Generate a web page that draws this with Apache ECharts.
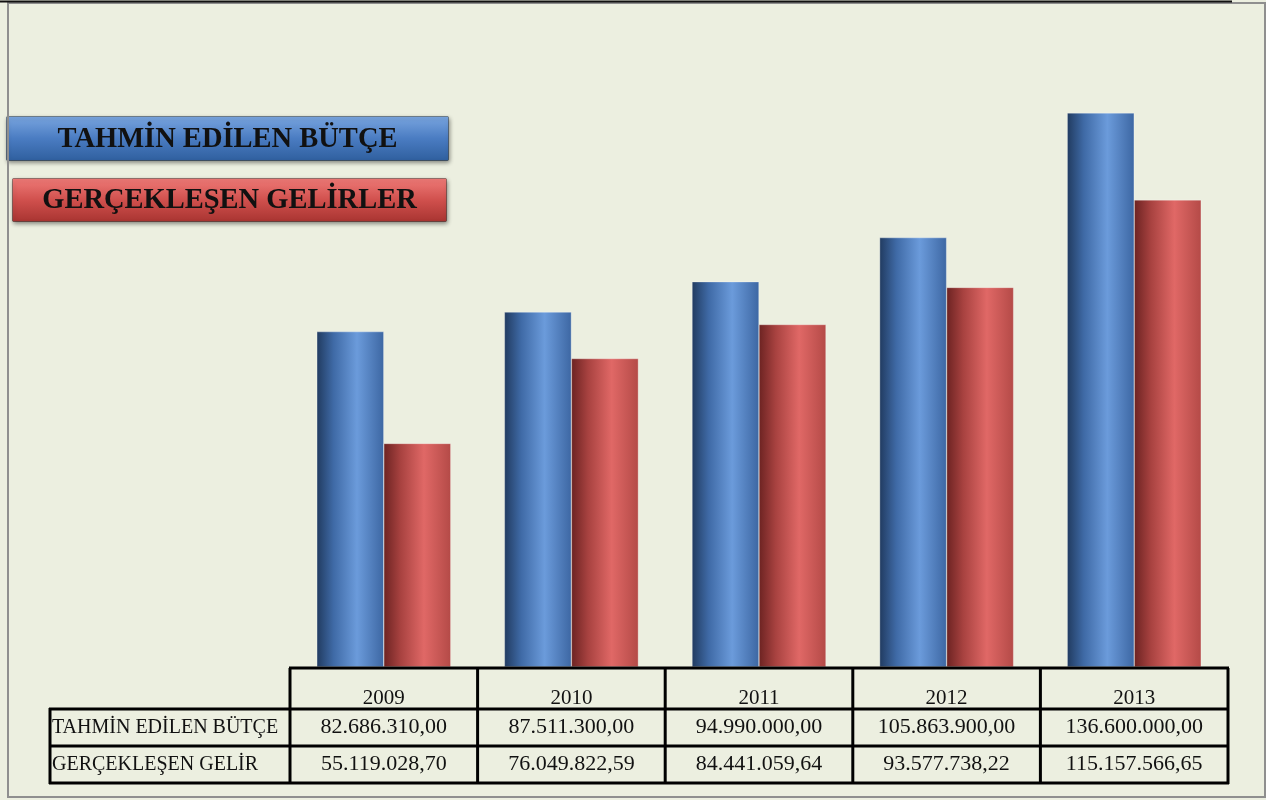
<!DOCTYPE html>
<html><head><meta charset="utf-8">
<script src="https://cdn.jsdelivr.net/npm/echarts@6/dist/echarts.min.js"></script>
<style>html,body{margin:0;padding:0;background:#ffffff;}#c{width:1275px;height:800px;}</style>
</head><body><div id="c"></div>
<script>
var categories = ['2009', '2010', '2011', '2012', '2013'];
var seriesNames = ['TAHMİN EDİLEN BÜTÇE', 'GERÇEKLEŞEN GELİRLER'];
var rowLabels = ['TAHMİN EDİLEN BÜTÇE', 'GERÇEKLEŞEN GELİR'];
var budget = [82686310.00, 87511300.00, 94990000.00, 105863900.00, 136600000.00];
var revenue = [55119028.70, 76049822.59, 84441059.64, 93577738.22, 115157566.65];

function fmtTR(v) {
  var fixed = v.toFixed(2).split('.');
  var intPart = fixed[0].replace(/\B(?=(\d{3})+(?!\d))/g, '.');
  return intPart + ',' + fixed[1];
}

var GL = 290, GR = 1228, GB = 667;
var serif = '"Liberation Serif", "DejaVu Serif", serif';

function lg(stops) {
  return { type: 'linear', x: 0, y: 0, x2: 1, y2: 0,
    colorStops: stops.map(function (s) { return { offset: s[0], color: s[1] }; }) };
}
var blueGrad = lg([[0, '#213b60'], [0.25, '#3f6aa6'], [0.6, '#6b9bdb'], [1, '#3d67a3']]);
var redGrad = lg([[0, '#6c2322'], [0.25, '#a84240'], [0.6, '#e06866'], [1, '#b44a47']]);

var chart = echarts.init(document.getElementById('c'));

var lines = [];
function hline(x1, x2, y) { lines.push({ type: 'line', shape: { x1: x1, y1: y, x2: x2, y2: y }, style: { stroke: '#000', lineWidth: 3 }, z: 10 }); }
function vline(x, y1, y2) { lines.push({ type: 'line', shape: { x1: x, y1: y1, x2: x, y2: y2 }, style: { stroke: '#000', lineWidth: 3 }, z: 10 }); }
var colW = (GR - GL) / categories.length;
hline(GL - 1, GR + 1, 668);
hline(49, GR + 1, 709);
hline(49, GR + 1, 746);
hline(49, GR + 1, 783);
for (var i = 0; i <= categories.length; i++) vline(GL + colW * i, 668, 784);
vline(50, 708, 784);

function legendBox(x, y, w, h, top, mid, bot, text) {
  return {
    type: 'group', left: x, top: y, z: 20,
    children: [
      { type: 'rect', shape: { x: 0, y: 0, width: w, height: h, r: 1 },
        style: { fill: { type: 'linear', x: 0, y: 0, x2: 0, y2: 1,
          colorStops: [{ offset: 0, color: top }, { offset: 0.5, color: mid }, { offset: 1, color: bot }] },
          stroke: 'rgba(0,0,0,0.35)', lineWidth: 1,
          shadowBlur: 4, shadowColor: 'rgba(0,0,0,0.45)', shadowOffsetX: 1, shadowOffsetY: 2 } },
      { type: 'text', x: w / 2, y: h / 2 + 1,
        style: { text: text, fill: '#111', font: 'bold 28.5px ' + serif, align: 'center', verticalAlign: 'middle' } }
    ]
  };
}

var option = {
  backgroundColor: '#ecefe0',
  animation: false,
  grid: { left: GL, right: 1275 - GR, bottom: 800 - GB, top: 18, containLabel: false },
  xAxis: {
    type: 'category', data: categories,
    axisLine: { show: false }, axisTick: { show: false },
    axisLabel: {
      margin: 18, interval: 0,
      formatter: function (v, idx) {
        return '{y|' + v + '}\n{a|' + fmtTR(budget[idx]) + '}\n{b|' + fmtTR(revenue[idx]) + '}';
      },
      rich: {
        y: { fontFamily: serif, fontSize: 21, color: '#111', lineHeight: 26 },
        a: { fontFamily: serif, fontSize: 22, color: '#111', lineHeight: 33 },
        b: { fontFamily: serif, fontSize: 22, color: '#111', lineHeight: 41 }
      }
    }
  },
  yAxis: { type: 'value', min: 0, max: 160000000, show: false, splitLine: { show: false } },
  series: [
    { name: seriesNames[0], type: 'bar', data: budget, barWidth: 67, barGap: '0%',
      itemStyle: { color: blueGrad, borderColor: 'rgba(255,255,255,0.6)', borderWidth: 0.5 } },
    { name: seriesNames[1], type: 'bar', data: revenue, barWidth: 67, barGap: '0%',
      itemStyle: { color: redGrad, borderColor: 'rgba(255,255,255,0.6)', borderWidth: 0.5 } }
  ],
  graphic: [
    { type: 'rect', shape: { x: 1266, y: 0, width: 9, height: 800 }, style: { fill: '#ffffff' }, z: 1 },
    { type: 'rect', shape: { x: 8, y: 3, width: 1257, height: 794 }, style: { fill: 'none', stroke: '#8f8f8f', lineWidth: 2 }, z: 1 },
    { type: 'line', shape: { x1: 0, y1: 1.5, x2: 1232, y2: 1.5 }, style: { stroke: '#111', lineWidth: 2 }, z: 2 },
    legendBox(6, 116, 442, 44, '#7aa6e0', '#4a7cc2', '#2f5f9e', seriesNames[0]),
    legendBox(12, 178, 434, 43, '#f07b78', '#d0504d', '#a83431', seriesNames[1]),
    { type: 'text', x: 52, y: 728, z: 20, style: { text: rowLabels[0], fill: '#111', font: '20px ' + serif, verticalAlign: 'middle' } },
    { type: 'text', x: 52, y: 765, z: 20, style: { text: rowLabels[1], fill: '#111', font: '20px ' + serif, verticalAlign: 'middle' } }
  ].concat(lines)
};
chart.setOption(option);
</script></body></html>
